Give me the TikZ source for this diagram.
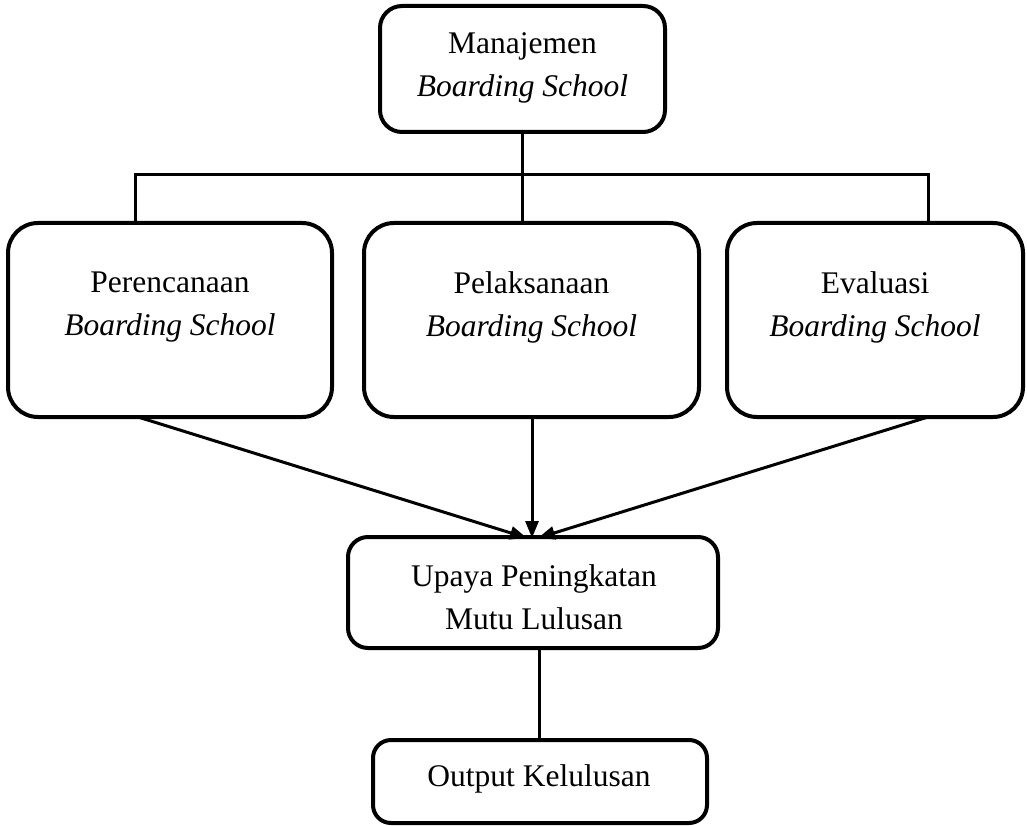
\documentclass[tikz,border=0pt]{standalone}
\usepackage{fontspec}
\setmainfont{Liberation Serif}
\usetikzlibrary{arrows.meta}
\begin{document}
\begin{tikzpicture}[x=1pt,y=-1pt,
  boxstyle/.style={draw=black, line width=4pt, fill=white, rounded corners=#1, inner sep=0pt},
  boxstyle/.default=22pt,
  txt/.style={align=center, inner sep=0pt, font=\fontsize{31.5}{43}\selectfont},
  conn/.style={line width=3pt},
  arr/.style={line width=3pt, -{Triangle[length=17pt,width=13pt]}}]
\useasboundingbox (0,0) rectangle (1027,826);
% boxes
\node[boxstyle=22pt, minimum width=285pt, minimum height=126pt] (top) at (522.5,69) {};
\node[txt] (toptxt) at (522.5,68) {Manajemen\\\textit{Boarding School}};
\node[boxstyle=30pt, minimum width=324pt, minimum height=194pt] (per) at (170,320) {};
\node[txt] (pertxt) at (170,307) {Perencanaan\\\textit{Boarding School}};
\node[boxstyle=30pt, minimum width=335pt, minimum height=194pt] (pel) at (531.5,320) {};
\node[txt] (peltxt) at (531.5,307) {Pelaksanaan\\\textit{Boarding School}};
\node[boxstyle=30pt, minimum width=296pt, minimum height=194pt] (eva) at (875,320) {};
\node[txt] (evatxt) at (875,307) {Evaluasi\\\textit{Boarding School}};
\node[boxstyle=20pt, minimum width=370pt, minimum height=111pt] (upa) at (533,592.5) {};
\node[txt] (upatxt) at (534,597) {Upaya Peningkatan\\Mutu Lulusan};
\node[boxstyle=18pt, minimum width=334pt, minimum height=83pt] (out) at (540,781.5) {};
\node[txt] (outtxt) at (539,779) {Output Kelulusan};
% tree connectors
\coordinate (hl) at (135,175);
\coordinate (hr) at (928,175);
\coordinate (hm) at (522,175);
\draw[conn] (top.south -| hm) -- (hm);
\draw[conn] (per.north -| hl) -- (hl) -- (hr) -- (eva.north -| hr);
\draw[conn] (hm) -- (pel.north -| hm);
% arrows
\coordinate (a1) at (138,417);
\coordinate (a3) at (928,417);
\coordinate (a2) at (532,417);
\coordinate (t1) at (527,538);
\coordinate (t2) at (532,538);
\coordinate (t3) at (538,538);
\draw[arr] (a1) -- (t1);
\draw[arr] (a2) -- (t2);
\draw[arr] (a3) -- (t3);
\coordinate (l1) at (539,648);
\draw[conn] (l1) -- (out.north -| l1);
\end{tikzpicture}
\end{document}
